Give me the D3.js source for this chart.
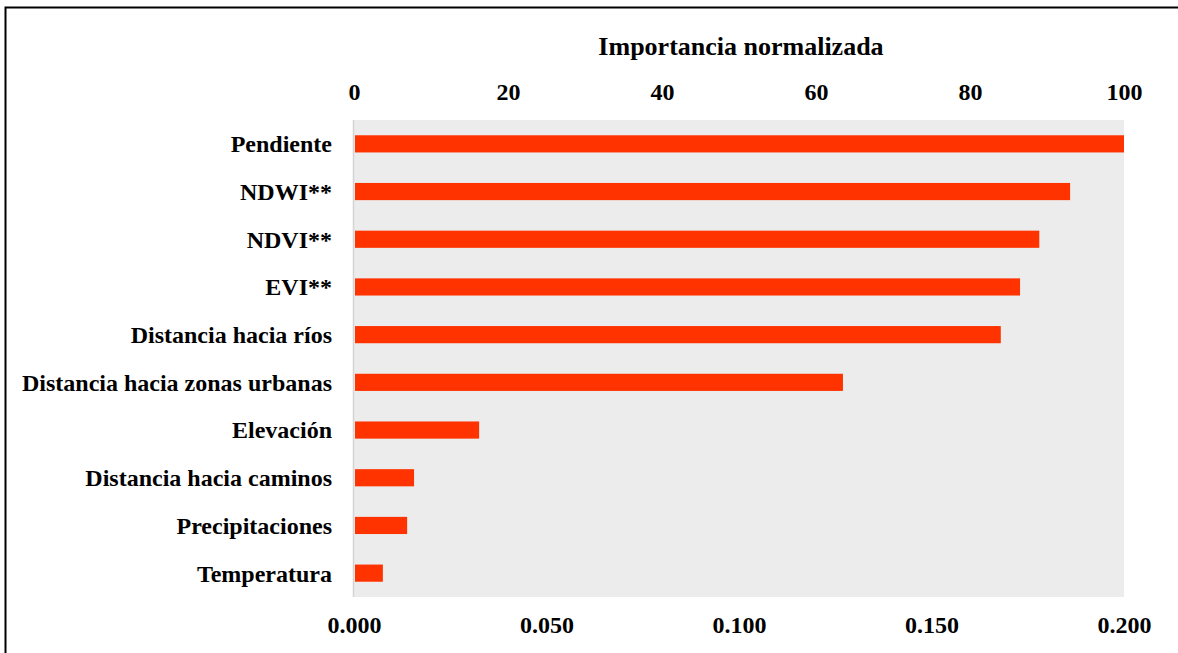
<!DOCTYPE html>
<html>
<head>
<meta charset="utf-8">
<script src="https://cdn.jsdelivr.net/npm/d3@7/dist/d3.min.js"></script>
<style>
  html, body { margin: 0; padding: 0; background: #fff; }
  svg { display: block; }
  text { font-family: "Liberation Serif", "Times New Roman", serif; font-weight: bold; fill: #000; }
</style>
</head>
<body>
<svg id="chart" width="1178" height="653"></svg>
<script>
const categories = ["Pendiente", "NDWI**", "NDVI**", "EVI**", "Distancia hacia ríos",
  "Distancia hacia zonas urbanas", "Elevación", "Distancia hacia caminos", "Precipitaciones", "Temperatura"];
const importance = [0.200, 0.186, 0.178, 0.173, 0.168, 0.127, 0.0325, 0.0156, 0.0138, 0.0075];
const bottomTicks = [0, 0.05, 0.10, 0.15, 0.20];
const topTicks = [0, 20, 40, 60, 80, 100];
const title = "Importancia normalizada";

const svg = d3.select("#chart");
const plot = { left: 354, right: 1124, top: 120, bottom: 597 };

// outer frame
svg.append("rect").attr("x", 5.5).attr("y", 7.5).attr("width", 1200).attr("height", 700)
  .attr("fill", "none").attr("stroke", "#000").attr("stroke-width", 2);

const x = d3.scaleLinear().domain([0, 0.2]).range([plot.left, plot.right]);
const xTop = d3.scaleLinear().domain([0, 100]).range([plot.left, plot.right]);
const y = d3.scaleBand().domain(categories).range([plot.top, plot.bottom]).paddingInner(0.64).paddingOuter(0.32);

svg.append("rect").attr("x", plot.left).attr("y", plot.top)
  .attr("width", plot.right - plot.left).attr("height", plot.bottom - plot.top).attr("fill", "#ECECEC");

svg.append("line").attr("x1", plot.left - 0.5).attr("x2", plot.left - 0.5)
  .attr("y1", plot.top).attr("y2", plot.bottom).attr("stroke", "#D4D4D4").attr("stroke-width", 1.5);

svg.selectAll("rect.bar").data(categories).join("rect").attr("class", "bar")
  .attr("x", x(0) + 1).attr("y", d => y(d))
  .attr("width", (d, i) => x(importance[i]) - x(0) - 1)
  .attr("height", y.bandwidth()).attr("fill", "#FF3300");

const fs = 24;
// category labels
svg.selectAll("text.cat").data(categories).join("text").attr("class", "cat")
  .attr("x", 332).attr("y", d => y(d) + y.bandwidth() / 2).attr("dy", "0.35em")
  .attr("text-anchor", "end").attr("font-size", fs).text(d => d);

// top axis
const topAxis = svg.append("g").attr("transform", `translate(0,${plot.top})`)
  .call(d3.axisTop(xTop).tickValues(topTicks).tickSize(0).tickPadding(20).tickFormat(d3.format("d")));
topAxis.select(".domain").remove();
topAxis.selectAll("text").attr("font-size", fs).attr("font-family", null);

// bottom axis
const bottomAxis = svg.append("g").attr("transform", `translate(0,${plot.bottom})`)
  .call(d3.axisBottom(x).tickValues(bottomTicks).tickSize(0).tickPadding(19).tickFormat(d3.format(".3f")));
bottomAxis.select(".domain").remove();
bottomAxis.selectAll("text").attr("font-size", fs).attr("font-family", null);

svg.append("text").attr("x", 741).attr("y", 55).attr("text-anchor", "middle")
  .attr("font-size", 26).text(title);
</script>
</body>
</html>
